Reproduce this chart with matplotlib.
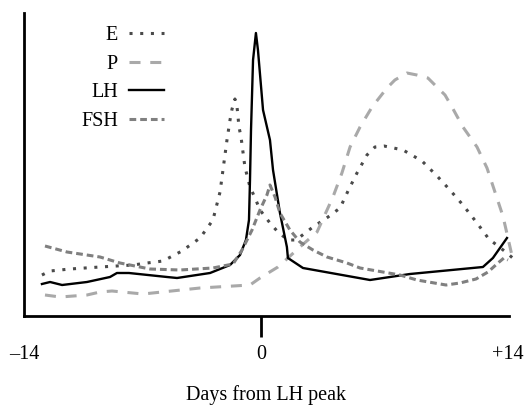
import matplotlib
matplotlib.use("Agg")
import matplotlib.pyplot as plt

plt.rcParams['font.family'] = ['Liberation Serif', 'DejaVu Serif']

# Days from LH peak and relative hormone levels (arbitrary units)
lh_days = [-12.94, -12.46, -11.75, -10.28, -8.92, -8.51, -7.80, -5.55, -4.96, -3.01,
           -1.83, -1.24, -0.89, -0.71, -0.65, -0.59, -0.47, -0.30, -0.18, 0.12,
           0.53, 0.71, 1.12, 1.53, 1.59, 2.48, 6.44, 8.80, 13.11, 13.70, 14.53]
lh_vals = [32, 34, 31, 34, 39, 43, 43, 39, 38, 43,
           51, 61, 76, 96, 136, 186, 256, 283, 266, 206,
           176, 146, 103, 69, 58, 48, 36, 42, 49, 58, 78]

e_days = [-12.94, -12.46, -11.28, -9.51, -7.56, -6.73, -5.79, -4.67, -3.60, -2.84,
          -2.42, -2.01, -1.83, -1.71, -1.54, -1.42, -1.30, -1.18, -0.95, -0.65,
          -0.35, -0.06, 0.53, 1.00, 1.59, 2.07, 3.07, 3.96, 4.67, 5.14, 5.67,
          6.26, 6.73, 7.27, 8.39, 9.51, 10.40, 11.16, 11.93, 12.76, 13.46, 14.00,
          14.53, 15.00]
e_vals = [41, 45, 47, 49, 51, 53, 55, 65, 78, 96,
          124, 176, 196, 207, 217, 210, 189, 179, 149, 129,
          118, 106, 93, 84, 76, 76, 89, 99, 108, 125, 143,
          161, 169, 170, 166, 155, 140, 126, 111, 93, 77, 70,
          63, 56]

p_days = [-12.76, -11.87, -10.28, -9.51, -8.80, -6.97, -3.60, -0.65, -0.06, 1.00,
          1.59, 2.30, 3.31, 4.25, 4.78, 5.26, 5.85, 6.56, 7.44, 7.91,
          8.62, 9.21, 9.86, 10.45, 10.87, 11.28, 11.93, 12.76, 13.35, 13.82,
          14.29, 14.59, 14.83]
p_vals = [21, 19, 21, 24, 25, 22, 28, 31, 38, 49,
          58, 69, 84, 119, 143, 169, 189, 209, 228, 236,
          243, 241, 238, 228, 221, 209, 189, 169, 148, 124,
          100, 78, 60]

fsh_days = [-12.76, -11.46, -9.51, -8.33, -7.15, -6.56, -4.79, -2.84, -1.65, -1.12,
            -0.53, -0.06, 0.35, 0.53, 0.83, 1.12, 1.71, 2.30, 3.07, 3.90,
            5.08, 5.85, 8.21, 9.21, 10.93, 11.75, 12.70, 13.41, 14.00, 14.35,
            14.59]
fsh_vals = [70, 64, 59, 53, 49, 47, 46, 48, 52, 66,
            86, 106, 121, 131, 119, 103, 86, 74, 66, 59,
            53, 48, 41, 36, 31, 33, 37, 44, 53, 58, 56]

tick_pos = [-14, 0, 14.6]
tick_labels = ['\u201314', '0', '+14']

fig = plt.figure(figsize=(5.27, 4.05), dpi=100)
ax = fig.add_axes([24 / 527, (405 - 316) / 405, 485 / 527, 303 / 405])

ax.plot(e_days, e_vals, color='#4a4a4a', lw=2.2, linestyle=(0, (1, 2.5)),
        label='E', clip_on=False)
ax.plot(p_days, p_vals, color='#a9a9a9', lw=2.2, linestyle=(0, (3.6, 3.2)),
        label='P', clip_on=False)
ax.plot(lh_days, lh_vals, color='black', lw=1.7, label='LH', clip_on=False)
ax.plot(fsh_days, fsh_vals, color='#808080', lw=2.2, linestyle=(0, (2.2, 1.3)),
        label='FSH', clip_on=False)

ax.set_xlim(-14, 14.65)
ax.set_ylim(0, 303)

for s in ['top', 'right']:
    ax.spines[s].set_visible(False)
for s in ['left', 'bottom']:
    ax.spines[s].set_linewidth(2.0)

ax.set_yticks([])
ax.set_xticks(tick_pos)
ax.set_xticklabels(tick_labels, fontsize=14.5)
ax.tick_params(axis='x', direction='out', length=15, width=2.0, pad=6)
ticks = ax.xaxis.get_major_ticks()
ticks[0].tick1line.set_visible(False)
ticks[2].tick1line.set_visible(False)

ax.set_xlabel('Days from LH peak', fontsize=14.5, labelpad=15)

leg = ax.legend(loc='upper left', bbox_to_anchor=(0.097, 0.99), frameon=False,
                markerfirst=False, fontsize=14.5, handlelength=1.75,
                handletextpad=0.55, labelspacing=0.47, borderpad=0)

fig.savefig('out.png', dpi=100)
